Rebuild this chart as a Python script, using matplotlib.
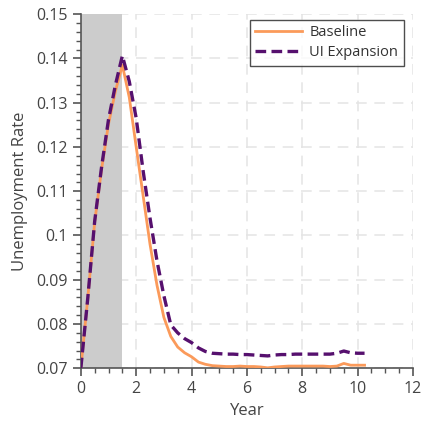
import numpy as np
import matplotlib
matplotlib.use("Agg")
import matplotlib.pyplot as plt
from matplotlib.ticker import MultipleLocator, FuncFormatter

years = [0.0, 0.25, 0.5, 0.75, 1.0, 1.25, 1.5, 1.75, 2.0, 2.25, 2.5, 2.75, 3.0, 3.25, 3.5,
         3.75, 4.0, 4.25, 4.5, 4.75, 5.0, 5.25, 5.5, 5.75, 6.0, 6.25, 6.5, 6.75, 7.0, 7.25,
         7.5, 7.75, 8.0, 8.25, 8.5, 8.75, 9.0, 9.25, 9.5, 9.75, 10.0, 10.25]

baseline = [0.0700, 0.0858, 0.1030, 0.1150, 0.1252, 0.1326, 0.1385, 0.1312, 0.1200, 0.1090,
            0.0980, 0.0888, 0.0815, 0.0772, 0.0748, 0.0735, 0.0726, 0.0714, 0.0709, 0.0706,
            0.0705, 0.0704, 0.0704, 0.0705, 0.0704, 0.0704, 0.0703, 0.0701, 0.0703, 0.0704,
            0.0705, 0.0705, 0.0705, 0.0705, 0.0705, 0.0705, 0.0704, 0.0705, 0.0711, 0.0707,
            0.0707, 0.0707]

ui_expansion = [0.0700, 0.0858, 0.1032, 0.1155, 0.1262, 0.1340, 0.1406, 0.1348, 0.1265, 0.1146,
                0.1039, 0.0943, 0.0864, 0.0798, 0.0780, 0.0767, 0.0758, 0.0746, 0.0738, 0.0734,
                0.0733, 0.0732, 0.0732, 0.0731, 0.0731, 0.0730, 0.0729, 0.0728, 0.0730, 0.0731,
                0.0731, 0.0732, 0.0732, 0.0732, 0.0732, 0.0732, 0.0732, 0.0734, 0.0739, 0.0735,
                0.0734, 0.0734]

recession = [0.0, 1.5]
x_ticks = [0, 2, 4, 6, 8, 10, 12]
y_ticks = [0.07, 0.08, 0.09, 0.10, 0.11, 0.12, 0.13, 0.14, 0.15]

plt.rcParams['font.family'] = ['Open Sans', 'DejaVu Sans']
text_color = '#444444'
axis_color = '#555555'

fig = plt.figure(figsize=(4.21, 4.28), dpi=100)
ax = fig.add_axes([0.192, 0.1395, 0.789, 0.8275])

ax.axvspan(recession[0], recession[1], color='#cccccc', zorder=1, lw=0)
ax.plot(years, baseline, color='#fb9a5a', lw=2.0, label='Baseline', zorder=3)
ax.plot(years, ui_expansion, color='#56106e', lw=2.4, ls=(0, (3.2, 1.6)),
        label='UI Expansion', zorder=4)

ax.set_xlim(0, 12)
ax.set_ylim(0.07, 0.15)
ax.set_xticks(x_ticks)
ax.set_yticks(y_ticks)
ax.xaxis.set_minor_locator(MultipleLocator(0.5))
ax.yaxis.set_minor_locator(MultipleLocator(0.002))
ax.yaxis.set_major_formatter(FuncFormatter(lambda v, p: f"{v:g}"))

ax.grid(True, which='major', color='#e4e4e4', lw=1.1, ls=(0, (7, 5)), zorder=0)
ax.set_axisbelow(True)

for s in ['top', 'right']:
    ax.spines[s].set_visible(False)
for s in ['left', 'bottom']:
    ax.spines[s].set_color(axis_color)
    ax.spines[s].set_linewidth(1.2)

ax.tick_params(which='major', direction='out', length=6, width=1.2, color=axis_color,
               labelcolor=text_color, labelsize=11.5)
ax.tick_params(which='minor', direction='out', length=3.5, width=1.0, color=axis_color)

ax.set_xlabel('Year', fontsize=12, color=text_color, labelpad=4)
ax.set_ylabel('Unemployment Rate', fontsize=12, color=text_color, labelpad=6)

leg = ax.legend(loc='upper right', fontsize=10.5, handlelength=3.2, frameon=True,
                fancybox=False, borderpad=0.4, labelspacing=0.3, handletextpad=0.5,
                bbox_to_anchor=(0.995, 1.005))
leg.get_frame().set_edgecolor('#222222')
leg.get_frame().set_linewidth(1.0)
for t in leg.get_texts():
    t.set_color('#333333')

fig.savefig('out.png', dpi=100)
